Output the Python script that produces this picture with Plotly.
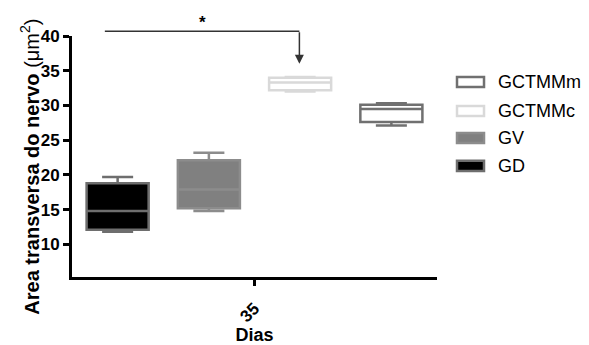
import plotly.graph_objects as go

groups = ["GD", "GV", "GCTMMc", "GCTMMm"]
day = ["35"]
lower = [11.8, 14.8, 32.0, 27.1]
q1 = [12.1, 15.2, 32.2, 27.6]
median = [14.8, 17.9, 33.3, 29.5]
q3 = [18.8, 22.1, 34.0, 30.1]
upper = [19.7, 23.2, 34.1, 30.3]
fills = ["#000000", "#808080", "#ffffff", "#ffffff"]
lines = ["#6e6e6e", "#8c8c8c", "#d9d9d9", "#707070"]

FONT = "Liberation Sans, Arial"

fig = go.Figure()
for i, g in enumerate(groups):
    fig.add_trace(go.Box(
        name=g, x=day, q1=[q1[i]], median=[median[i]], q3=[q3[i]],
        lowerfence=[lower[i]], upperfence=[upper[i]],
        fillcolor=fills[i], line=dict(color=lines[i], width=2.5),
        whiskerwidth=0.5, boxpoints=False, offsetgroup=g, showlegend=False,
    ))

axfont = dict(family=FONT, size=17, color="black", weight=700)
fig.update_layout(
    width=581, height=337,
    margin=dict(l=64, r=152, t=28, b=68),
    paper_bgcolor="white", plot_bgcolor="white",
    boxmode="group", boxgap=0.0, boxgroupgap=0.32,
    xaxis=dict(type="category", range=[-0.5, 0.5], showline=True, linecolor="black", linewidth=3,
               ticks="outside", ticklen=6, tickwidth=3, tickcolor="black", tickangle=-45,
               tickfont=axfont, showgrid=False, zeroline=False, ticklabelstandoff=6,
               automargin=False,
               title=dict(text="Dias", font=dict(family=FONT, size=18, color="black", weight=700),
                          standoff=10)),
    yaxis=dict(range=[5.3, 40], showline=True, linecolor="black", linewidth=3,
               ticks="outside", ticklen=6, tickwidth=3, tickcolor="black",
               tickvals=[10, 15, 20, 25, 30, 35, 40], tickfont=axfont,
               showgrid=False, zeroline=False),
)

# explicit x-axis baseline and tick (ensures they are drawn)
fig.add_shape(type="line", xref="paper", yref="paper", x0=-0.0082, x1=1.0, y0=-0.0062, y1=-0.0062,
              line=dict(color="black", width=3))
fig.add_shape(type="line", xref="paper", yref="paper", x0=0.5, x1=0.5, y0=-0.0062, y1=-0.031,
              line=dict(color="black", width=3))

# y-axis title as annotation (positioned like the reference)
fig.add_annotation(xref="paper", yref="paper", x=-0.156, y=0.456, textangle=-90, showarrow=False,
                   text="<b>Area transversa do nervo</b> (μm<sup>2</sup>)",
                   font=dict(family=FONT, size=20, color="black"))

# custom legend (top to bottom: GCTMMm, GCTMMc, GV, GD)
legend_y = [0.461, 0.577, 0.689, 0.809]
for i, g in enumerate(groups):
    yc = legend_y[i]
    fig.add_shape(type="rect", xref="paper", yref="paper", x0=1.0548, x1=1.1288,
                  y0=yc - 0.021, y1=yc + 0.021,
                  fillcolor=fills[i], line=dict(color=lines[i], width=2.5))
    fig.add_annotation(xref="paper", yref="paper", x=1.163, y=yc, xanchor="left", yanchor="middle",
                       showarrow=False, text=g, font=dict(family=FONT, size=18, color="black"))

# significance bracket
fig.add_shape(type="line", xref="paper", yref="paper", x0=0.09, x1=0.623, y0=1.02, y1=1.02,
              line=dict(color="#333333", width=1.5))
fig.add_annotation(xref="paper", yref="paper", x=0.623, y=0.885, ax=0, ay=-33,
                   showarrow=True, arrowhead=2, arrowsize=1.2, arrowwidth=1.5, arrowcolor="#333333", text="")
fig.add_annotation(xref="paper", yref="paper", x=0.358, y=1.01, yanchor="bottom", showarrow=False,
                   text="*", font=dict(family=FONT, size=17, color="black", weight=700))

fig.write_html("out.html")
